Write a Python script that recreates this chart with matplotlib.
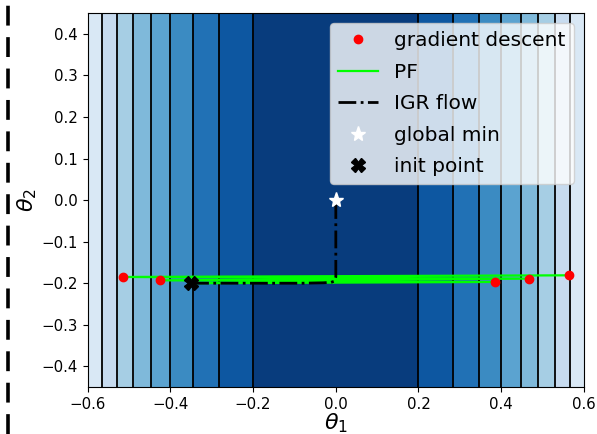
import numpy as np
import matplotlib
matplotlib.use("Agg")
import matplotlib.pyplot as plt
from matplotlib.lines import Line2D

# ---- data ----
levels = [0.0, 0.04, 0.08, 0.12, 0.16, 0.20, 0.24, 0.28, 0.32, 0.36, 0.40]
x_lim = (-0.6, 0.6)
y_lim = (-0.45, 0.45)
x_ticks = [-0.6, -0.4, -0.2, 0.0, 0.2, 0.4, 0.6]
y_ticks = [-0.4, -0.3, -0.2, -0.1, 0.0, 0.1, 0.2, 0.3, 0.4]

init_pt = (-0.35, -0.2)
global_min = (0.0, 0.0)
gd_t1 = [-0.35, 0.385, -0.426, 0.467, -0.515, 0.564]
gd_t2 = [-0.2, -0.197, -0.193, -0.189, -0.185, -0.181]
pf_t1 = [-0.35, 0.385, -0.426, 0.467, -0.515, 0.564]
pf_t2 = [-0.2, -0.197, -0.193, -0.189, -0.185, -0.181]
igr_t1 = [-0.35, -0.25, -0.15, -0.08, -0.03, -0.012, -0.003, 0.0, 0.0, 0.0]
igr_t2 = [-0.2, -0.2, -0.2, -0.2, -0.199, -0.198, -0.195, -0.185, -0.1, 0.0]

# loss landscape
t1 = np.linspace(x_lim[0], x_lim[1], 600)
t2 = np.linspace(y_lim[0], y_lim[1], 400)
T1, T2 = np.meshgrid(t1, t2)
Z = T1 ** 2

fig = plt.figure(figsize=(5.97, 4.34), dpi=100)
ax = fig.add_axes([0.147, 0.108, 0.831, 0.862])

ax.contourf(T1, T2, Z, levels=levels, cmap="Blues_r")
ax.contour(T1, T2, Z, levels=levels[1:9], colors="black", linewidths=1.3)

ax.plot(pf_t1, pf_t2, color="lime", lw=1.6, label="PF", zorder=3)
ax.plot(gd_t1[1:], gd_t2[1:], "o", color="red", ms=6, ls="none",
        label="gradient descent", zorder=4)
ax.plot(igr_t1, igr_t2, color="black", ls="-.", lw=2.0, label="IGR flow", zorder=5)
ax.plot([global_min[0]], [global_min[1]], "*", color="white", ms=11,
        ls="none", label="global min", zorder=6)
ax.plot([init_pt[0]], [init_pt[1]], "X", color="black", ms=10,
        ls="none", label="init point", zorder=7)

handles, labels = ax.get_legend_handles_labels()
order = [labels.index(l) for l in ["gradient descent", "PF", "IGR flow", "global min", "init point"]]
ax.legend([handles[i] for i in order], [labels[i] for i in order],
          loc="upper right", fontsize=14.5, framealpha=0.8, labelspacing=0.62)

ax.set_xlim(*x_lim)
ax.set_ylim(*y_lim)
ax.set_xticks(x_ticks)
ax.set_yticks(y_ticks)
ax.tick_params(labelsize=10.8)
ax.set_xlabel(r"$\theta_1$", fontsize=16, labelpad=0)
ax.set_ylabel(r"$\theta_2$", fontsize=16, labelpad=2)

fig.add_artist(Line2D([0.013, 0.013], [0.0, 1.0], transform=fig.transFigure,
                      color="black", lw=2.6, ls=(0, (5.5, 3.2))))

fig.savefig("out.png", dpi=100)
